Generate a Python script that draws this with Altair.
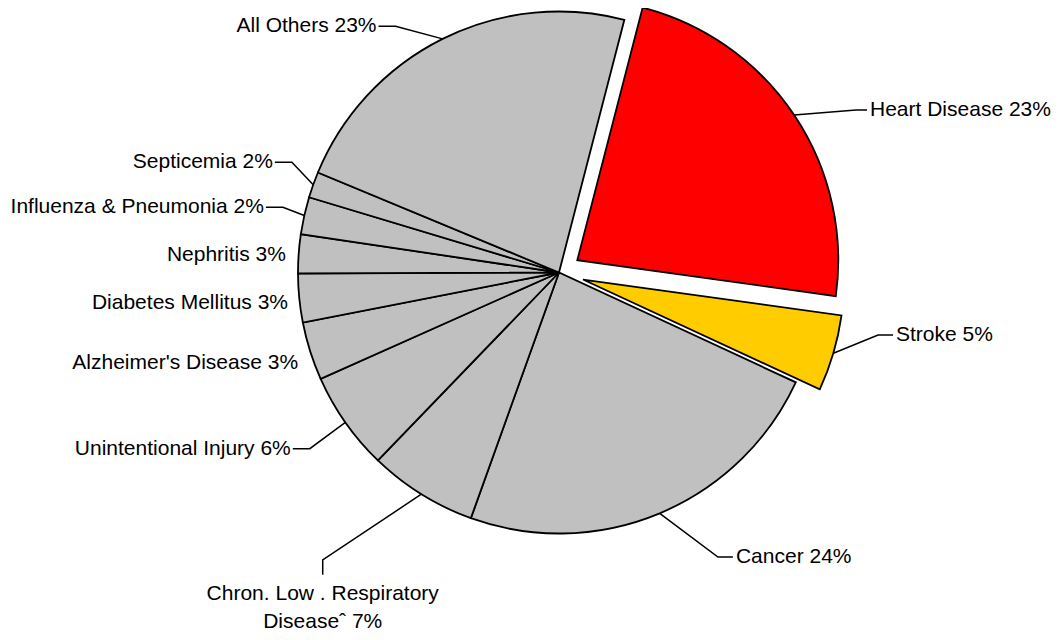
import math
import altair as alt
import pandas as pd

# ---------------- data ----------------
categories = [
    "Heart Disease", "Stroke", "Cancer",
    "Chron. Low . Respiratory\nDiseaseˆ",
    "Unintentional Injury", "Alzheimer's Disease", "Diabetes Mellitus",
    "Nephritis", "Influenza & Pneumonia", "Septicemia", "All Others",
]
shares = [23.1, 4.7, 23.5, 6.7, 6.1, 3.6, 3.0, 2.4, 2.3, 1.6, 22.7]
pct_labels = ["23%", "5%", "24%", "7%", "6%", "3%", "3%", "3%", "2%", "2%", "23%"]

# ---------------- styles / layout ----------------
colors = ["#FF0000", "#FFCC00"] + ["#C0C0C0"] * 9
explode = [22, 25, 0, 0, 0, 0, 0, 0, 0, 0, 0]
label_r = [338.6, 325.1, 325.9, 372.0, 305.2, 276.2, 272.7, 273.6, 283.7, 289.0, 295.5]
label_shift = [5.1, -5.3, -6.5, 7.6, -0.2, -1.6, -0.8, -0.5, 0.7, 2.8, -7.1]
label_side = ["right", "right", "right", "below", "left", "left", "left", "left", "left", "left", "left"]
has_leader = [True, True, True, True, True, False, False, False, True, True, True]
seg_len = [11, 15, 15, 15, 17, 0, 0, 0, 17, 17, 17]
start_deg = 14.5
W, H = 1046, 624
CX, CY = 551.0, 264.5
R = 261
FONT = "Liberation Sans"
FS = 21
LINE_H = 28

total = sum(shares)
a0 = math.radians(start_deg)

rows, lines, texts = [], [], []
cum = 0.0
for i, (cat, v) in enumerate(zip(categories, shares)):
    mid = a0 + (cum + v / 2) / total * 2 * math.pi
    cum += v
    cx = CX + explode[i] * math.sin(mid)
    cy = CY - explode[i] * math.cos(mid)
    rows.append({"category": cat, "share": v, "order": i, "cx": cx, "cy": cy})

    la = mid + math.radians(label_shift[i])
    ex = CX + label_r[i] * math.sin(la)
    ey = CY - label_r[i] * math.cos(la)
    label = cat + " " + pct_labels[i]
    side = label_side[i]
    if side == "right":
        end = (ex + seg_len[i], ey)
        tpos = (end[0] + 3, ey)
    elif side == "left":
        end = (ex - seg_len[i], ey)
        tpos = (end[0] - 2, ey) if has_leader[i] else (ex, ey)
    else:
        end = (ex, ey + seg_len[i])
        tpos = (ex, end[1] + 19)
    if has_leader[i]:
        rim = (cx + R * math.sin(mid), cy - R * math.cos(mid))
        for k, (px, py) in enumerate([rim, (ex, ey), end]):
            lines.append({"category": cat, "pt": k, "x": px, "y": py})
    texts.append({"label": label, "side": side, "x": tpos[0], "y": tpos[1]})

slices = pd.DataFrame(rows)
leaders = pd.DataFrame(lines)
labels = pd.DataFrame(texts)

pie = alt.Chart(slices).mark_arc(
    outerRadius=R, stroke="black", strokeWidth=1.8, strokeJoin="miter"
).encode(
    theta=alt.Theta("share:Q", stack=True,
                    scale=alt.Scale(domain=[0, total], range=[a0, a0 + 2 * math.pi], nice=False)),
    order=alt.Order("order:Q"),
    color=alt.Color("category:N", scale=alt.Scale(domain=categories, range=colors), legend=None),
    x=alt.X("cx:Q", scale=None),
    y=alt.Y("cy:Q", scale=None),
)

lead = alt.Chart(leaders).mark_line(color="black", strokeWidth=1.5).encode(
    x=alt.X("x:Q", scale=None),
    y=alt.Y("y:Q", scale=None),
    detail="category:N",
    order="pt:Q",
)

def text_layer(side, align):
    return alt.Chart(labels).transform_filter(
        alt.datum.side == side
    ).mark_text(
        align=align, baseline="middle", font=FONT, fontSize=FS, color="black",
        lineBreak="\n", lineHeight=LINE_H,
    ).encode(
        x=alt.X("x:Q", scale=None),
        y=alt.Y("y:Q", scale=None),
        text="label:N",
    )

chart = alt.layer(
    pie, lead,
    text_layer("right", "left"),
    text_layer("left", "right"),
    text_layer("below", "center"),
).properties(
    width=W, height=H, padding=0, autosize="none", background="white"
).configure_view(stroke=None)

chart.save("out.html", embed_options={"renderer": "svg", "actions": False})
